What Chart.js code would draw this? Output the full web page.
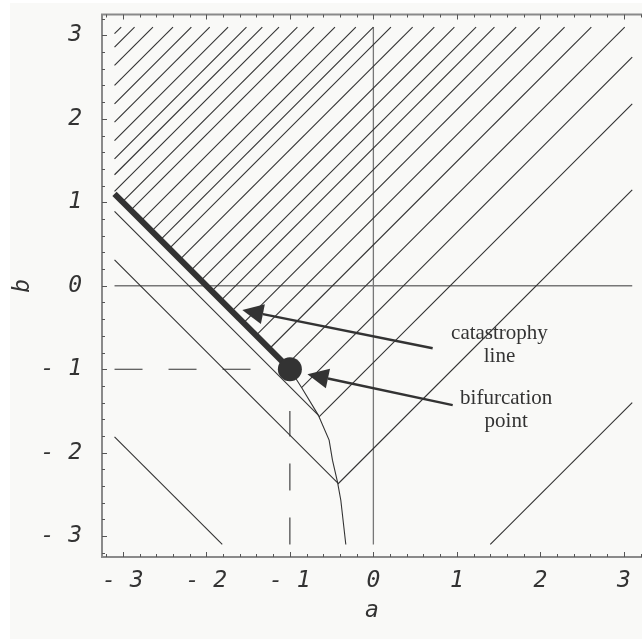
<!DOCTYPE html>
<html>
<head>
<meta charset="utf-8">
<title>Catastrophy map</title>
<script src="https://cdn.jsdelivr.net/npm/chart.js@4/dist/chart.umd.min.js"></script>
<style>
  html, body { margin: 0; padding: 0; background: #fff; overflow: hidden; }
  canvas { display: block; }
</style>
</head>
<body>
<canvas id="map" width="642" height="639"></canvas>
<script>
// contour levels running up to the right, given as b - a
const riseLevels = [6.12, 5.96, 5.74, 5.5, 5.28, 5.06, 4.84, 4.62, 4.43, 4.23, 4.01, 3.81, 3.56, 3.31,
    3.1, 2.89, 2.63, 2.37, 2.13, 1.87, 1.65, 1.39, 1.11, 0.81, 0.49, 0.09, -0.36, -0.92, -1.95, -4.5]
// contour levels running down to the right, given as b + a
const fallLevels = [-2.21, -2.79, -4.91]
// fold curve from the bifurcation point down to the bottom
const foldA = [-1.0, -0.86, -0.66, -0.53, -0.49, -0.43, -0.39, -0.33]
const foldB = [-1.0, -1.22, -1.55, -1.85, -2.09, -2.35, -2.57, -3.1]
// catastrophy line b = -a - 2
const catA = [-3.1, -1]
const catB = [1.1, -1]
const bifPoint = [-1, -1]
const tickVals = [-3, -2, -1, 0, 1, 2, 3]
const noteText = [['catastrophy', 'line'], ['bifurcation', 'point']]
const noteAt = [[1.51, -0.57], [1.59, -1.345]]
const arrowFrom = [[0.71, -0.75], [0.95, -1.43]]
const arrowTo = [[-1.57, -0.29], [-0.79, -1.06]]

const lim = 3.1
const ink = '#333'

const fold = foldA.map((a, i) => ({ x: a, y: foldB[i] }))

// where b - a = c (sign 1) or b + a = c (sign -1) crosses the fold curve
function foldCross(c, sign) {
    for (let i = 0; i < fold.length - 1; i++) {
        const p = fold[i], q = fold[i + 1]
        const fp = p.y - sign * p.x - c
        const fq = q.y - sign * q.x - c
        if (fp === 0) return p
        if (fp * fq < 0) {
            const t = fp / (fp - fq)
            return { x: p.x + t * (q.x - p.x), y: p.y + t * (q.y - p.y) }
        }
    }
    return null
}

function riseLine(c) {
    let start
    const ac = (-2 - c) / 2
    if (ac >= catA[0] && ac <= catA[1]) start = { x: ac, y: -ac - 2 }
    else if (ac < catA[0]) start = { x: -lim, y: -lim + c }
    else start = foldCross(c, 1) || { x: -lim - c, y: -lim }
    const a1 = Math.min(lim, lim - c)
    return [start, { x: a1, y: a1 + c }]
}

function fallLine(d) {
    const end = foldCross(d, -1) || { x: d + lim, y: -lim }
    return [{ x: -lim, y: lim + d }, end]
}

const thin = { showLine: true, pointRadius: 0, borderColor: ink, borderWidth: 1.1, fill: false }

const datasets = [
    { data: [{ x: bifPoint[0], y: bifPoint[1] }], pointRadius: 12, backgroundColor: ink, borderWidth: 0 },
    { ...thin, data: catA.map((a, i) => ({ x: a, y: catB[i] })), borderWidth: 6 },
    { ...thin, data: fold },
    ...riseLevels.map(c => ({ ...thin, data: riseLine(c) })),
    ...fallLevels.map(d => ({ ...thin, data: fallLine(d) })),
    { ...thin, data: [{ x: -lim, y: -1 }, { x: -1.45, y: -1 }], borderDash: [28, 26] },
    { ...thin, data: [{ x: -1, y: -lim }, { x: -1, y: -1.5 }], borderDash: [27, 27] },
    { ...thin, data: [{ x: -lim, y: 0 }, { x: lim, y: 0 }], borderColor: '#777', borderWidth: 1.3 },
    { ...thin, data: [{ x: 0, y: -lim }, { x: 0, y: lim }], borderColor: '#777', borderWidth: 1.3 },
]

const tickFont = { family: 'DejaVu Sans Mono', size: 23, style: 'italic' }
const fmt = v => v < 0 ? '- ' + (-v) : String(v)

function drawArrow(ctx, x0, y0, x1, y1) {
    const ang = Math.atan2(y1 - y0, x1 - x0)
    const len = 21, half = 10
    const bx = x1 - len * Math.cos(ang), by = y1 - len * Math.sin(ang)
    ctx.lineWidth = 2.5
    ctx.beginPath()
    ctx.moveTo(x0, y0)
    ctx.lineTo(bx, by)
    ctx.stroke()
    ctx.beginPath()
    ctx.moveTo(x1, y1)
    ctx.lineTo(bx + half * Math.sin(ang), by - half * Math.cos(ang))
    ctx.lineTo(bx - half * Math.sin(ang), by + half * Math.cos(ang))
    ctx.closePath()
    ctx.fill()
}

const decor = {
    id: 'decor',
    beforeDraw(chart) {
        const ctx = chart.ctx
        ctx.save()
        ctx.fillStyle = '#fff'
        ctx.fillRect(0, 0, chart.width, chart.height)
        ctx.fillStyle = '#f9f9f7'
        ctx.fillRect(10, 3, chart.width - 10, chart.height - 3)
        ctx.restore()
    },
    afterDatasetsDraw(chart) {
        const ctx = chart.ctx
        const xs = chart.scales.x, ys = chart.scales.y
        const { left, right, top, bottom } = chart.chartArea
        ctx.save()
        // frame, its right side runs past the canvas edge
        ctx.strokeStyle = '#8a8a8a'
        ctx.lineWidth = 2
        ctx.beginPath()
        ctx.moveTo(right, top)
        ctx.lineTo(left, top)
        ctx.lineTo(left, bottom)
        ctx.lineTo(right, bottom)
        ctx.stroke()
        // inward ticks every 0.2
        ctx.strokeStyle = '#555'
        ctx.lineWidth = 1
        ctx.beginPath()
        for (let i = -16; i <= 16; i++) {
            const v = i / 5
            const len = i % 5 === 0 ? 5 : 3
            const px = Math.round(xs.getPixelForValue(v)) + 0.5
            const py = Math.round(ys.getPixelForValue(v)) + 0.5
            if (px <= right) {
                ctx.moveTo(px, bottom); ctx.lineTo(px, bottom - len)
                ctx.moveTo(px, top); ctx.lineTo(px, top + len)
            }
            ctx.moveTo(left, py); ctx.lineTo(left + len, py)
        }
        ctx.stroke()
        // arrows
        ctx.strokeStyle = ink
        ctx.fillStyle = ink
        arrowFrom.forEach((f, i) => {
            const t = arrowTo[i]
            drawArrow(ctx, xs.getPixelForValue(f[0]), ys.getPixelForValue(f[1]),
                xs.getPixelForValue(t[0]), ys.getPixelForValue(t[1]))
        })
        // notes
        ctx.font = '21px "Liberation Serif"'
        ctx.textAlign = 'center'
        ctx.textBaseline = 'middle'
        noteText.forEach((lines, i) => {
            const x = xs.getPixelForValue(noteAt[i][0])
            const y = ys.getPixelForValue(noteAt[i][1])
            lines.forEach((s, j) => ctx.fillText(s, x, y + j * 23))
        })
        ctx.restore()
    }
}

new Chart(document.getElementById('map'), {
    type: 'scatter',
    data: { datasets },
    plugins: [decor],
    options: {
        responsive: false,
        animation: false,
        devicePixelRatio: 1,
        events: [],
        layout: { autoPadding: false, padding: { left: 0, top: 14.5, right: 0, bottom: 0 } },
        plugins: { legend: { display: false }, tooltip: { enabled: false } },
        scales: {
            x: {
                // the window cuts the frame just short of its right side
                type: 'linear', min: -3.25, max: 3.217,
                grid: { display: false }, border: { display: false },
                afterBuildTicks: s => { s.ticks = tickVals.map(v => ({ value: v })) },
                afterFit: s => { s.height = 82; s.paddingLeft = 0; s.paddingRight = 0 },
                ticks: { font: tickFont, color: ink, padding: 2, callback: fmt, maxRotation: 0, autoSkip: false },
                title: { display: true, text: 'a', font: tickFont, color: ink, padding: { top: 0, bottom: 14 } }
            },
            y: {
                type: 'linear', min: -3.25, max: 3.25,
                grid: { display: false }, border: { display: false },
                afterBuildTicks: s => { s.ticks = tickVals.map(v => ({ value: v })) },
                afterFit: s => { s.width = 102; s.paddingTop = 0; s.paddingBottom = 0 },
                ticks: { font: tickFont, color: ink, padding: 12, callback: fmt, autoSkip: false },
                title: { display: true, text: 'b', font: tickFont, color: ink, padding: { top: 9, bottom: 0 } }
            }
        }
    }
})
</script>
</body>
</html>
